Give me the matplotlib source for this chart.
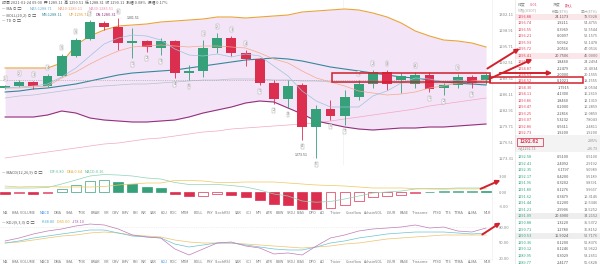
import matplotlib
matplotlib.use("Agg")
import matplotlib.pyplot as plt
from matplotlib.patches import Rectangle
import numpy as np

plt.rcParams['font.family'] = ['Noto Sans CJK SC', 'DejaVu Sans']

# ---- candles (35 x 1h) ----
opens = [1287.51, 1287.91, 1288.71, 1287.91, 1289.91, 1293.91, 1297.31, 1300.51, 1299.71, 1296.51,
         1296.91, 1295.51, 1296.91, 1290.51, 1290.91, 1295.51, 1297.51, 1294.51, 1293.31, 1288.51,
         1285.31, 1288.11, 1279.71, 1283.31, 1281.91, 1285.71, 1288.31, 1290.71, 1289.11, 1288.31,
         1290.11, 1287.51, 1288.11, 1289.71, 1289.11]
highs = [1288.11, 1289.11, 1288.91, 1290.31, 1294.31, 1297.51, 1301.11, 1300.91, 1301.51, 1299.51,
         1297.11, 1297.51, 1297.11, 1292.11, 1297.11, 1298.51, 1297.91, 1295.11, 1293.51, 1289.11,
         1289.11, 1288.51, 1284.11, 1285.11, 1287.11, 1289.11, 1291.11, 1291.11, 1290.51, 1290.71,
         1290.71, 1288.51, 1290.31, 1290.11, 1290.51]
lows = [1287.31, 1287.71, 1287.31, 1287.71, 1289.71, 1293.71, 1297.11, 1299.11, 1295.11, 1293.51,
        1294.71, 1294.11, 1289.51, 1289.11, 1289.71, 1294.51, 1293.91, 1291.91, 1288.11, 1284.31,
        1283.51, 1277.11, 1273.51, 1281.11, 1280.11, 1285.11, 1287.51, 1287.11, 1286.51, 1287.51,
        1286.71, 1286.11, 1287.51, 1287.51, 1288.31]
closes = [1287.91, 1288.71, 1287.91, 1289.91, 1293.91, 1297.11, 1300.71, 1299.71, 1296.51, 1296.91,
          1295.71, 1296.91, 1290.51, 1290.91, 1295.51, 1297.51, 1294.51, 1293.31, 1288.51, 1285.31,
          1287.91, 1279.71, 1283.31, 1281.91, 1285.71, 1288.31, 1290.71, 1288.31, 1289.91, 1290.11,
          1287.31, 1288.11, 1289.71, 1288.51, 1290.11]
LAST = 1289.11

# ---- overlays ----
ma5 = [1287.51, 1287.71, 1287.91, 1288.31, 1289.71, 1291.51, 1293.91, 1296.31, 1297.51, 1298.11,
       1297.91, 1297.11, 1295.31, 1294.11, 1293.91, 1294.31, 1293.71, 1294.31, 1293.91, 1291.91,
       1289.91, 1286.91, 1284.91, 1283.71, 1283.71, 1283.71, 1285.91, 1286.91, 1288.51, 1289.51,
       1289.31, 1288.71, 1289.11, 1288.71, 1288.71]
ma10 = [1287.51, 1287.51, 1287.71, 1287.91, 1289.51, 1290.71, 1292.31, 1293.71, 1294.91, 1295.71,
        1295.91, 1296.11, 1295.91, 1295.71, 1295.91, 1295.91, 1295.71, 1295.51, 1294.51, 1293.31,
        1292.51, 1290.91, 1289.51, 1288.71, 1287.91, 1286.91, 1286.51, 1286.11, 1286.31, 1286.71,
        1287.51, 1287.91, 1288.51, 1288.91, 1289.11]
ma30 = [1273.51, 1273.91, 1274.31, 1274.71, 1275.11, 1275.51, 1275.91, 1276.31, 1276.51, 1276.91,
        1277.31, 1277.51, 1277.91, 1278.31, 1278.71, 1278.91, 1279.31, 1279.51, 1279.71, 1279.91,
        1280.11, 1280.31, 1280.51, 1280.91, 1281.31, 1281.71, 1282.11, 1282.51, 1282.91, 1283.31,
        1283.91, 1284.31, 1284.71, 1285.11, 1285.51]
ma_slow = [1285.51, 1285.91, 1286.11, 1286.51, 1286.91, 1287.31, 1287.71, 1287.91, 1288.11, 1288.31,
           1288.31, 1288.51, 1288.71, 1288.91, 1289.11, 1289.11, 1289.31, 1289.31, 1289.31, 1289.11,
           1289.11, 1288.91, 1288.91, 1288.71, 1288.71, 1288.71, 1288.71, 1288.51, 1288.51, 1288.51,
           1288.31, 1288.31, 1288.31, 1288.31, 1288.31]
boll_up = [1291.51, 1291.51, 1291.51, 1291.51, 1292.51, 1296.11, 1297.91, 1299.11, 1299.91, 1300.11,
           1300.31, 1300.71, 1300.91, 1301.11, 1301.31, 1301.71, 1301.71, 1301.51, 1301.71, 1301.91,
           1302.11, 1302.71, 1302.91, 1303.11, 1303.31, 1303.11, 1302.51, 1301.71, 1300.51, 1298.91,
           1297.91, 1297.11, 1296.91, 1296.51, 1295.71]
boll_mb = [1286.71, 1286.91, 1287.31, 1287.51, 1287.91, 1288.31, 1288.91, 1289.51, 1290.11, 1290.51,
           1290.71, 1290.91, 1291.11, 1291.51, 1291.91, 1292.31, 1292.71, 1293.11, 1293.31, 1293.51,
           1293.31, 1292.91, 1292.31, 1291.71, 1291.31, 1290.91, 1290.51, 1290.11, 1289.71, 1289.51,
           1289.11, 1288.71, 1288.51, 1288.31, 1288.11]
boll_dn = [1281.71, 1281.71, 1281.71, 1282.11, 1282.91, 1282.51, 1281.51, 1281.11, 1280.91, 1280.71,
           1280.71, 1280.91, 1281.11, 1281.71, 1282.51, 1283.11, 1283.71, 1284.51, 1284.91, 1284.71,
           1283.51, 1282.31, 1280.91, 1280.31, 1279.71, 1279.31, 1279.11, 1279.31, 1279.51, 1279.51,
           1279.71, 1279.71, 1279.91, 1280.11, 1280.31]
price_ticks = [1302.11, 1298.91, 1295.71, 1292.51, 1289.31, 1286.11, 1282.91, 1279.71, 1276.51, 1273.31]

# ---- TD sequential markers ----
td_up_idx = [0, 1, 2, 3, 4, 5, 6, 8, 14, 15, 16, 17, 25, 26, 27, 29, 32]
td_up_num = [1, 2, 3, 4, 5, 6, 7, 8, 1, 2, 3, 4, 1, 2, 3, 4, 5]
td_dn_idx = [9, 10, 11, 12, 13, 18, 19, 20, 21, 22, 23, 24, 30, 31, 33]
td_dn_num = [1, 2, 3, 4, 5, 1, 2, 3, 4, 5, 6, 7, 1, 2, 3]

# ---- MACD ----
macd_hist = [-0.4, -0.2, -0.3, -0.2, 0.6, 1.4, 2.2, 2.4, 2.0, 1.6, 1.0, 0.8, -0.4, -0.8, -0.7, -0.4,
             -0.6, -1.0, -1.6, -2.4, -2.6, -3.4, -3.44, -3.2, -2.6, -1.8, -1.0, -0.8, -0.6, -0.1,
             0.1, 0.14, 0.16, 0.2, 0.16]
dif = [0.8, 0.8, 0.8, 0.9, 1.6, 2.4, 3.2, 3.5, 3.4, 3.2, 2.8, 2.6, 1.9, 1.5, 1.5, 1.5, 1.3, 1.0,
       0.4, -0.4, -0.8, -1.8, -2.04, -1.9, -1.4, -0.8, -0.2, 0.0, 0.2, 0.6, 0.7, 0.7, 0.8, 0.8, 0.8]
dea = [1.2, 1.0, 1.1, 1.1, 1.0, 1.0, 1.0, 1.1, 1.4, 1.6, 1.8, 1.8, 2.3, 2.3, 2.2, 1.9, 1.9, 2.0,
       2.0, 2.0, 1.8, 1.6, 1.4, 1.3, 1.2, 1.0, 0.8, 0.8, 0.8, 0.7, 0.6, 0.56, 0.64, 0.6, 0.64]

# ---- KDJ ----
kdj_k = [50.0, 53.8, 59.4, 63.1, 66.9, 70.6, 74.4, 74.4, 68.8, 63.1, 61.3, 59.4, 48.1, 42.5, 46.3,
         50.0, 50.0, 46.3, 42.5, 38.8, 36.9, 36.9, 42.5, 50.0, 53.8, 59.4, 63.1, 66.9, 68.8, 70.6,
         70.6, 70.6, 68.8, 66.9, 68.8]
kdj_d = [50.0, 51.9, 55.6, 59.4, 63.1, 65.0, 68.8, 70.6, 68.8, 65.0, 63.1, 61.3, 55.6, 51.9, 50.0,
         50.0, 50.0, 48.1, 46.3, 44.4, 42.5, 40.6, 42.5, 44.4, 48.1, 50.0, 53.8, 57.5, 59.4, 61.3,
         63.1, 65.0, 65.0, 65.0, 65.0]
kdj_j = [53.8, 59.4, 66.9, 72.5, 76.3, 81.9, 85.6, 83.8, 76.3, 65.0, 61.3, 59.4, 38.8, 27.5, 38.8,
         50.0, 51.9, 44.4, 40.6, 29.4, 31.3, 27.5, 44.4, 59.4, 65.0, 72.5, 76.3, 78.1, 80.0, 83.8,
         78.1, 80.0, 72.5, 70.6, 78.1]

# ---- order book ----
sell_price = [1296.88, 1296.74, 1296.55, 1296.21, 1295.93, 1295.72, 1295.41, 1295.18, 1294.87, 1294.63,
              1294.52, 1294.30, 1294.11, 1293.86, 1293.47, 1293.25, 1293.07, 1292.86, 1292.73]
sell_qty = [24.1173, 1.9211, 0.3969, 0.0097, 5.0962, 2.0516, 20.7506, 1.8460, 2.2479, 2.0000,
            0.1021, 1.7915, 4.1300, 1.8460, 0.2000, 2.2816, 5.3232, 0.5611, 1.9200]
sell_cum = [78.5928, 54.4755, 52.5544, 52.1575, 52.1478, 47.0516, 45.0000, 24.2494, 22.4034, 20.1555,
            18.1555, 18.0534, 16.2619, 12.1319, 10.2859, 10.0859, 7.8043, 2.4811, 1.9200]
buy_price = [1292.58, 1292.41, 1292.35, 1292.17, 1291.96, 1291.80, 1291.62, 1291.44, 1291.21, 1291.09,
             1290.88, 1290.71, 1290.53, 1290.36, 1290.12, 1289.95, 1289.77]
buy_qty = [0.5100, 2.4092, 6.1797, 0.4200, 0.3202, 0.1276, 0.3479, 0.2200, 2.9906, 20.6900,
           1.3220, 1.2780, 15.9024, 0.1200, 0.1246, 0.3029, 2.4177]
buy_cum = [0.5100, 2.9192, 9.0989, 9.5189, 9.8391, 9.9667, 10.3146, 10.5346, 13.5252, 34.2152,
           35.5372, 36.8152, 52.7176, 52.8376, 52.9622, 53.2651, 55.6828]
MID = 1292.62

tabs = ["MA", "EMA", "VOLUME", "MACD", "DMA", "SMA", "TRIX", "BRAR", "VR", "OBV", "EMV", "RSI", "WR",
        "SAR", "KDJ", "ROC", "MTM", "BOLL", "PSY", "StochRSI", "SAR", "CCI", "MFI", "ATR", "BBW",
        "SKDJ", "BIAS", "DPO", "AO", "Trixier", "Coreflow", "AchainVOL", "LSUR", "BASE", "Trixsome",
        "FTSD", "TTS", "TTMA", "ALMA", "MLR"]
tab_x = [5, 15, 28, 45, 58, 70, 82, 95, 106, 115, 125, 135, 144, 153, 164, 173, 185, 198, 210, 223,
         238, 249, 259, 269, 280, 291, 301, 313, 323, 336, 354, 374, 391, 404, 420, 437, 448, 459,
         473, 487]

GREEN = '#35a07a'
RED = '#dc2f50'
ANN = '#d2202c'
W, H = 600, 264
XLIM = (-0.36, 34.42)
idx = np.arange(len(opens))

fig = plt.figure(figsize=(W / 100, H / 100), dpi=100)


def px_axes(x0, y0, x1, y1, **kw):
    return fig.add_axes([x0 / W, 1 - y1 / H, (x1 - x0) / W, (y1 - y0) / H], **kw)


def style(a, ticks, labels, ylim):
    a.set_xlim(*XLIM)
    a.set_ylim(*ylim)
    a.set_xticks([])
    a.yaxis.tick_right()
    a.set_yticks(ticks)
    a.set_yticklabels(labels)
    a.tick_params(axis='y', length=0, labelsize=3, labelcolor='#8a8a8a', pad=5)
    for s in a.spines.values():
        s.set_visible(False)
    a.patch.set_alpha(0)


# main price pane
ax = px_axes(0, 0, 492, 165)
style(ax, price_ticks, [f"{t:.2f}" for t in price_ticks], (1272.11, 1305.11))
ax.fill_between(idx, boll_dn, boll_up, color='#f4e4f7', lw=0)
ax.axvline(23.9, color='#ececec', lw=0.4)
ax.plot(idx, ma30, color='#f2a7c3', lw=0.5)
ax.plot(idx, ma_slow, color='#b3c1d1', lw=0.5)
ax.plot(idx, boll_up, color='#e9a53a', lw=0.8)
ax.plot(idx, boll_dn, color='#93307c', lw=0.8)
ax.plot(idx, boll_mb, color='#34899a', lw=0.8)
ax.axhline(LAST, color='#9a9a9a', lw=0.4, ls=(0, (2, 2)))
cols = [GREEN if c >= o else RED for o, c in zip(opens, closes)]
ax.vlines(idx, lows, highs, colors=cols, lw=0.6, zorder=3)
ax.bar(idx, np.abs(np.array(closes) - np.array(opens)), bottom=np.minimum(opens, closes),
       width=0.7, color=cols, zorder=3)
ax.plot(idx, ma10, color='#f3a98b', lw=0.5, zorder=4)
ax.plot(idx, ma5, color='#9cc4dc', lw=0.5, zorder=4)

box = dict(boxstyle='square,pad=0.15', fc='white', ec='#a0a0a0', lw=0.3)
for i, n in zip(td_up_idx, td_up_num):
    ax.annotate(str(n), (i, highs[i]), xytext=(0, 3), textcoords='offset points', ha='center',
                va='bottom', fontsize=2.5, color='#777', bbox=box, zorder=5)
for i, n in zip(td_dn_idx, td_dn_num):
    ax.annotate(str(n), (i, lows[i]), xytext=(0, -3), textcoords='offset points', ha='center',
                va='top', fontsize=2.5, color='#777', bbox=box, zorder=5)
hi = int(np.argmax(highs))
lo = int(np.argmin(lows))
ax.annotate(f"{highs[hi]:.2f}", (hi, highs[hi]), xytext=(6, 0), textcoords='offset points',
            va='center', fontsize=2.6, color='#555',
            arrowprops=dict(arrowstyle='-', lw=0.3, color='#777'))
ax.annotate(f"{lows[lo]:.2f}", (lo, lows[lo]), xytext=(-6, 2), textcoords='offset points',
            ha='right', va='center', fontsize=2.6, color='#555',
            arrowprops=dict(arrowstyle='-', lw=0.3, color='#777'))

# MACD pane
am = px_axes(0, 166, 492, 210)
style(am, [3, 0, -3], ["3.00", "0.00", "-3.00"], (-3.6, 5.2))
for i, h in enumerate(macd_hist):
    c = GREEN if h >= 0 else RED
    hollow = i > 0 and h > macd_hist[i - 1]
    am.bar(i, h, width=0.7, color='white' if hollow else c, edgecolor=c, lw=0.5)
am.plot(idx, dif, color='#8fd3b5', lw=0.5)
am.plot(idx, dea, color='#f0c75e', lw=0.5)

# KDJ pane
ak = px_axes(0, 218, 492, 260)
style(ak, [80, 50, 20], ["80.00", "50.00", "20.00"], (18.1, 96.9))
ak.axhline(80, color='#e4e4e4', lw=0.4, ls=(0, (2, 2)))
ak.axhline(20, color='#e4e4e4', lw=0.4, ls=(0, (2, 2)))
ak.plot(idx, kdj_d, color='#efc36a', lw=0.5)
ak.plot(idx, kdj_k, color='#6cc3d5', lw=0.5)
ak.plot(idx, kdj_j, color='#c07bb8', lw=0.5)

# overlay in pixel coordinates for texts and hand-drawn marks
ov = px_axes(0, 0, 600, 264, zorder=10)
ov.set_xlim(0, W)
ov.set_ylim(H, 0)
ov.axis('off')


def t(x, y, s, c='#666', size=3.0, **kw):
    ov.text(x, y, s, color=c, fontsize=size, va='center', **kw)


o, h_, l_, c_ = opens[-1], highs[-1], lows[-1], closes[-1]
t(2, 3, f"时间 2021-01-24 09:00  开 {o:.2f}  高 {h_:.2f}  低 {l_:.2f}  收 {c_:.2f}  "
        f"涨幅 {(c_ - o) / o * 100:.2f}%  振幅 {(h_ - l_) / l_ * 100:.2f}%", c='#555', size=2.8)
t(2, 9, "— MA ⊙ ▢", c='#555', size=2.8)
t(30, 9, f"MA5:{ma5[-1]:.2f}", c='#6fb0d3', size=2.8)
t(58, 9, f"MA10:{ma10[-1]:.2f}", c='#e99a78', size=2.8)
t(89, 9, f"MA30:{ma30[-1]:.2f}", c='#e88cb0', size=2.8)
t(2, 15, "— BOLL(20,2) ⊙ ▢", c='#555', size=2.8)
t(42, 15, f"MB:{boll_mb[-1]:.2f}", c='#34899a', size=2.8)
t(69, 15, f"UP:{boll_up[-1]:.2f}", c='#e0982a', size=2.8)
t(96, 15, f"DN:{boll_dn[-1]:.2f}", c='#93307c', size=2.8)
t(2, 21, "— TD ⊙ ▢", c='#555', size=2.8)

t(2, 172, "— MACD(12,26,9) ⊙ ▢", c='#555', size=2.8)
t(50, 172, f"DIF:{dif[-1]:.2f}", c='#5cbf95', size=2.8)
t(67, 172, f"DEA:{dea[-1]:.2f}", c='#e0a82e', size=2.8)
t(85, 172, f"MACD:{macd_hist[-1]:.2f}", c='#5cbf95', size=2.8)
t(2, 222, "— KDJ(9,3,3) ⊙ ▢", c='#555', size=2.8)
t(42, 222, f"K:{kdj_k[-1]:.2f}", c='#4fb0c6', size=2.8)
t(57, 222, f"D:{kdj_d[-1]:.2f}", c='#e0a82e', size=2.8)
t(72, 222, f"J:{kdj_j[-1]:.2f}", c='#b060a8', size=2.8)

for row_y, active in ((213, "MACD"), (262, "KDJ")):
    for name, x in zip(tabs, tab_x):
        t(x, row_y, name, c='#3d8fe0' if name == active else '#777', size=2.7, ha='center')

ov.plot([492, 492], [0, 260], color='#eeeeee', lw=0.5)
ov.plot([514.5, 514.5], [0, 264], color='#e6e6e6', lw=0.5)

# order book
t(518, 5, "精度", c='#999', size=2.8)
t(530, 5, "0.01", c='#e05a7a', size=2.8)
t(553, 5, "深度", c='#999', size=2.8)
t(565, 5, "默认", c='#e05a7a', size=2.8)
t(518, 11.5, "价格(USDT)", c='#aaa', size=2.6)
t(569, 11.5, "数量(ETH)", c='#aaa', size=2.6, ha='right')
t(598, 11.5, "累计(ETH)", c='#aaa', size=2.6, ha='right')
sell_y = 17 + 6.45 * np.arange(len(sell_price))
buy_y = 157 + 6.6 * np.arange(len(buy_price))
for y, p, q, cm in zip(sell_y, sell_price, sell_qty, sell_cum):
    if q > 10:
        ov.add_patch(Rectangle((515, y - 3), 85, 6, fc='#fbe6ea', lw=0, zorder=0))
    t(518, y, f"{p:.2f}", c='#e0405a', size=2.8)
    t(569, y, f"{q:.4f}", c='#555', size=2.8, ha='right')
    t(598, y, f"{cm:.4f}", c='#777', size=2.8, ha='right')
ov.add_patch(Rectangle((515, 135), 85, 17, fc='#f3f3f3', lw=0, zorder=0))
ov.add_patch(Rectangle((516.5, 137.5), 26, 8, fill=False, ec='#e0405a', lw=0.6))
t(529.5, 141.5, f"{MID:.2f}", c='#e0405a', size=3.6, ha='center', fontweight='bold')
t(518, 148.5, "≈$1292.73", c='#888', size=2.6)
t(598, 141.5, "2.05%", c='#888', size=2.6, ha='right')
t(598, 148.5, "+26.73", c='#888', size=2.6, ha='right')
for y, p, q, cm in zip(buy_y, buy_price, buy_qty, buy_cum):
    if q > 10:
        ov.add_patch(Rectangle((515, y - 3), 85, 6, fc='#eeeeee', lw=0, zorder=0))
    t(518, y, f"{p:.2f}", c='#2ea37c', size=2.8)
    t(569, y, f"{q:.4f}", c='#555', size=2.8, ha='right')
    t(598, y, f"{cm:.4f}", c='#777', size=2.8, ha='right')

# hand-drawn red marks on the screenshot
ov.add_patch(Rectangle((332, 73), 158, 9, fill=False, ec=ANN, lw=1.1, zorder=6))
ov.add_patch(Rectangle((490, 77), 93, 6, fill=False, ec=ANN, lw=1.1, zorder=6))
for start, end in [((485, 70), (522, 47)), ((487, 80), (535, 58)), ((497, 73), (555, 73)),
                   ((478, 190), (503, 179)), ((480, 236), (503, 221))]:
    ov.annotate('', xy=end, xytext=start,
                arrowprops=dict(arrowstyle='-|>', color=ANN, lw=1.4, mutation_scale=6), zorder=7)

fig.savefig("out.png", dpi=100)
